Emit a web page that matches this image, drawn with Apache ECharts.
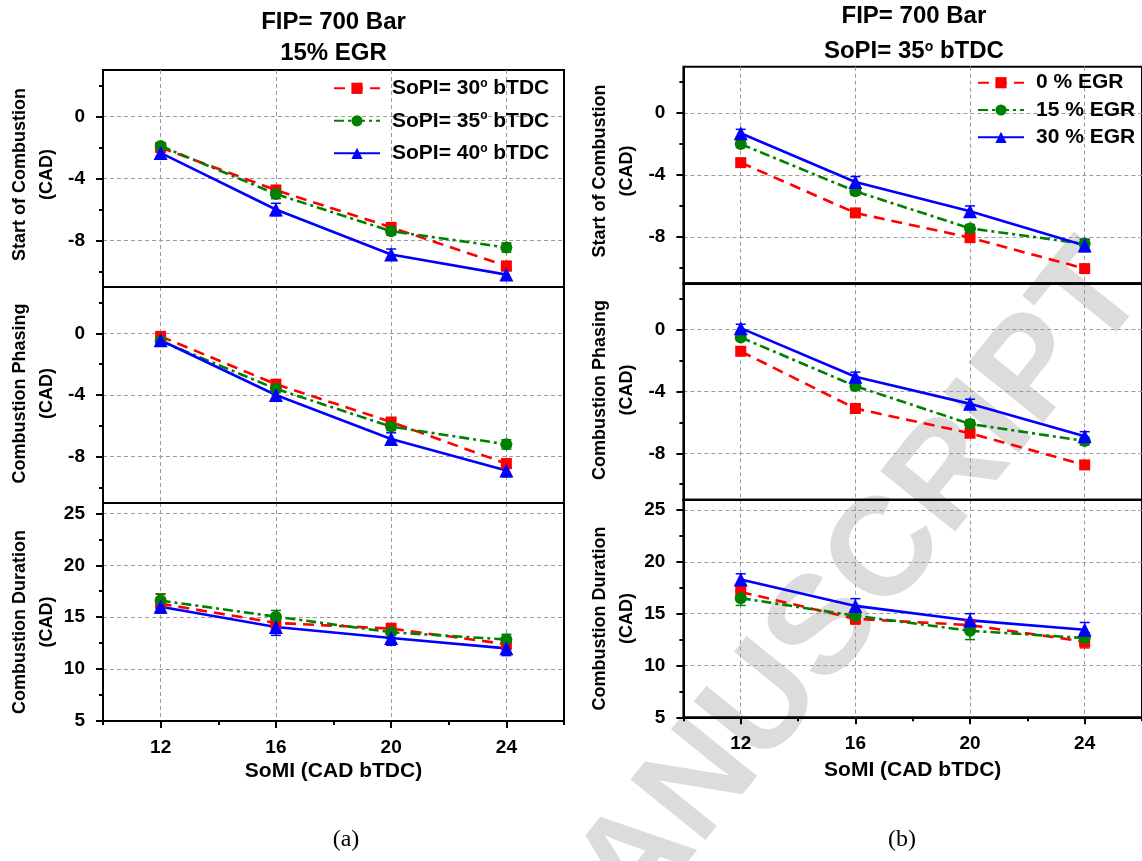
<!DOCTYPE html>
<html><head><meta charset="utf-8">
<script src="https://cdn.jsdelivr.net/npm/echarts@6/dist/echarts.min.js"></script>
<style>html,body{margin:0;padding:0;background:#fff}#c{width:1142px;height:861px}</style>
</head><body><div id="c"></div>
<script>
// ---------- data ----------
const somi = [12, 16, 20, 24];
const xMajorTicks = [12, 16, 20, 24];
const xMinorTicks = [10, 14, 18, 22, 26];
const cadMajorTicks = [0, -4, -8];
const cadMinorTicks = [2, -2, -6, -10];
const durMajorTicks = [5, 10, 15, 20, 25];
const durMinorTicks = [7.5, 12.5, 17.5, 22.5];

const namesA = ['SoPI= 30° bTDC', 'SoPI= 35° bTDC', 'SoPI= 40° bTDC'];
const namesB = ['0 % EGR', '15 % EGR', '30 % EGR'];

// panel (a): FIP 700 bar, 15% EGR
const aSoc30 = [-2.0, -4.75, -7.15, -9.65];
const aSoc35 = [-1.9, -5.0, -7.4, -8.45];
const aSoc40 = [-2.35, -6.0, -8.9, -10.2];
const aPh30 = [-0.2, -3.3, -5.75, -8.45];
const aPh35 = [-0.5, -3.6, -6.05, -7.2];
const aPh40 = [-0.45, -4.0, -6.85, -8.9];
const aDur30 = [16.3, 14.45, 13.9, 12.4];
const aDur35 = [16.6, 15.05, 13.55, 12.85];
const aDur40 = [16.0, 14.05, 13.0, 12.0];
const aSocErr30 = [0.2, 0.3, 0.25, 0.3];
const aSocErr35 = [0.2, 0.3, 0.25, 0.3];
const aSocErr40 = [0.25, 0.4, 0.35, 0.3];
const aPhErr30 = [0.2, 0.25, 0.25, 0.3];
const aPhErr35 = [0.2, 0.25, 0.25, 0.3];
const aPhErr40 = [0.25, 0.35, 0.4, 0.4];
const aDurErr30 = [0.9, 0.6, 0.5, 0.5];
const aDurErr35 = [0.65, 0.6, 0.6, 0.5];
const aDurErr40 = [0.6, 0.8, 0.7, 0.7];

// panel (b): FIP 700 bar, SoPI 35 deg bTDC
const bSoc0 = [-3.2, -6.45, -8.05, -10.05];
const bSoc15 = [-2.0, -5.05, -7.45, -8.45];
const bSoc30 = [-1.3, -4.45, -6.35, -8.55];
const bPh0 = [-1.4, -5.1, -6.7, -8.75];
const bPh15 = [-0.5, -3.65, -6.1, -7.2];
const bPh30 = [0.1, -3.05, -4.8, -6.9];
const bDur0 = [17.1, 14.5, 13.9, 12.3];
const bDur15 = [16.5, 14.8, 13.35, 12.65];
const bDur30 = [18.3, 15.75, 14.35, 13.45];
const bSocErr0 = [0.2, 0.25, 0.2, 0.25];
const bSocErr15 = [0.2, 0.25, 0.25, 0.25];
const bSocErr30 = [0.25, 0.35, 0.35, 0.4];
const bPhErr0 = [0.2, 0.25, 0.2, 0.25];
const bPhErr15 = [0.2, 0.25, 0.25, 0.25];
const bPhErr30 = [0.25, 0.3, 0.3, 0.3];
const bDurErr0 = [0.5, 0.5, 0.5, 0.6];
const bDurErr15 = [0.7, 0.6, 0.85, 0.5];
const bDurErr30 = [0.55, 0.7, 0.65, 0.7];

// ---------- build ----------
const FONT = '"Liberation Sans", Arial, Helvetica, sans-serif';
const SERIF = '"Liberation Serif", "Times New Roman", serif';
const BLACK = '#000';
const seriesStyles = [
  { color: '#ff0000', type: [11, 7], symbol: 'rect', size: 11 },
  { color: '#008000', type: [10, 4, 3, 4], symbol: 'circle', size: 12 },
  { color: '#0000ff', type: 'solid', symbol: 'triangle', size: 14 }
];

const panels = [
  { left: 103, tops: [70, 287, 503], heights: [217, 216, 218], names: namesA,
    vals: [[aSoc30, aSoc35, aSoc40], [aPh30, aPh35, aPh40], [aDur30, aDur35, aDur40]],
    errs: [[aSocErr30, aSocErr35, aSocErr40], [aPhErr30, aPhErr35, aPhErr40], [aDurErr30, aDurErr35, aDurErr40]],
    xNameGap: 40 },
  { left: 683.4, tops: [66.7, 283.3, 499.7], heights: [216.6, 216.4, 217.6], names: namesB,
    vals: [[bSoc0, bSoc15, bSoc30], [bPh0, bPh15, bPh30], [bDur0, bDur15, bDur30]],
    errs: [[bSocErr0, bSocErr15, bSocErr30], [bPhErr0, bPhErr15, bPhErr30], [bDurErr0, bDurErr15, bDurErr30]],
    xNameGap: 42 }
];
const metrics = [
  { name: 'Start of Combustion\n(CAD)', min: -11, max: 3, major: cadMajorTicks, minor: cadMinorTicks, pad: [0, 0, 0, 8] },
  { name: 'Combustion Phasing\n(CAD)', min: -11, max: 3, major: cadMajorTicks, minor: cadMinorTicks, pad: [0, 0, 0, 3] },
  { name: 'Combustion Duration\n(CAD)', min: 5, max: 26, major: durMajorTicks, minor: durMinorTicks, pad: [0, 20, 0, 0] }
];

const grid = [], xMain = [], yMain = [], xMinor = [], yMinor = [], series = [];
const labelStyle = { fontFamily: FONT, fontSize: 19, fontWeight: 'bold', color: BLACK };
const tickLine = { color: BLACK, width: 2 };
const splitStyle = { color: '#9a9a9a', width: 1, type: [4, 3] };

panels.forEach((p, pi) => {
  metrics.forEach((m, mi) => {
    const gi = pi * 3 + mi;
    const bottom = mi === 2;
    grid.push({ left: p.left, top: p.tops[mi], width: 461, height: p.heights[mi],
      show: true, borderColor: BLACK, borderWidth: 2, backgroundColor: 'transparent' });
    xMain.push({
      type: 'value', gridIndex: gi, position: 'bottom', min: 10, max: 26,
      axisLine: { show: true, onZero: false, lineStyle: tickLine },
      axisTick: { show: bottom, customValues: xMajorTicks, length: 7, lineStyle: tickLine },
      axisLabel: { show: bottom, customValues: xMajorTicks, margin: 17, ...labelStyle },
      splitLine: { show: true, lineStyle: splitStyle },
      name: bottom ? 'SoMI (CAD bTDC)' : '', nameLocation: 'middle', nameGap: p.xNameGap,
      nameTextStyle: { fontFamily: FONT, fontSize: 21, fontWeight: 'bold', color: BLACK }
    });
    if (bottom) {
      xMinor.push({
        type: 'value', gridIndex: gi, position: 'bottom', min: 10, max: 26,
        axisLine: { show: false, onZero: false },
        axisTick: { show: true, customValues: xMinorTicks, length: 4, lineStyle: tickLine },
        axisLabel: { show: false }, splitLine: { show: false }
      });
    }
    yMain.push({
      type: 'value', gridIndex: gi, position: 'left', min: m.min, max: m.max,
      axisLine: { show: true, onZero: false, lineStyle: tickLine },
      axisTick: { show: true, customValues: m.major, length: 7, lineStyle: tickLine },
      axisLabel: { show: true, customValues: m.major, margin: 18, ...labelStyle },
      splitLine: { show: true, lineStyle: splitStyle },
      name: m.name, nameLocation: 'middle', nameGap: 43,
      nameTextStyle: { fontFamily: FONT, fontSize: 18, fontWeight: 'bold', color: BLACK, lineHeight: 26.6, padding: m.pad }
    });
    yMinor.push({
      type: 'value', gridIndex: gi, position: 'left', min: m.min, max: m.max,
      axisLine: { show: false, onZero: false },
      axisTick: { show: true, customValues: m.minor, length: 4, lineStyle: tickLine },
      axisLabel: { show: false }, splitLine: { show: false }
    });
    p.names.forEach((nm, si) => {
      const st = seriesStyles[si];
      const vals = p.vals[mi][si];
      const errs = p.errs[mi][si];
      series.push({
        type: 'custom', name: 'err-' + gi + '-' + si, xAxisIndex: gi, yAxisIndex: gi,
        data: somi.map((x, i) => [x, vals[i], errs[i]]),
        encode: { x: 0, y: 1 }, silent: true, z: 2, animation: false,
        renderItem: (params, api) => {
          const x = api.value(0), y = api.value(1), e = api.value(2);
          const t = api.coord([x, y + e]), b = api.coord([x, y - e]);
          const w = 5, s = { stroke: st.color, lineWidth: 1.5 };
          return { type: 'group', children: [
            { type: 'line', shape: { x1: t[0], y1: t[1], x2: b[0], y2: b[1] }, style: s },
            { type: 'line', shape: { x1: t[0] - w, y1: t[1], x2: t[0] + w, y2: t[1] }, style: s },
            { type: 'line', shape: { x1: b[0] - w, y1: b[1], x2: b[0] + w, y2: b[1] }, style: s }
          ] };
        }
      });
      series.push({
        type: 'line', name: nm, xAxisIndex: gi, yAxisIndex: gi,
        data: somi.map((x, i) => [x, vals[i]]),
        symbol: st.symbol, symbolSize: st.size, showAllSymbol: true,
        lineStyle: { color: st.color, width: 2.6, type: st.type },
        itemStyle: { color: st.color }, z: 2, animation: false
      });
    });
  });
});

// watermark geometry
const mctx = document.createElement('canvas').getContext('2d');
mctx.font = 'bold 140px "Liberation Sans"';
const wmOffset = mctx.measureText('ACCEPTED MAN').width + mctx.measureText('U').width / 2;

const legendText = {
  fontFamily: FONT, fontSize: 21, fontWeight: 'bold', color: BLACK, lineHeight: 22, padding: [0, 0, 0, 7],
  rich: { sup: { fontFamily: FONT, fontSize: 12, fontWeight: 'bold', color: BLACK, lineHeight: 12, verticalAlign: 'top' } }
};
const titleText = { fontFamily: FONT, fontSize: 24, fontWeight: 'bold', color: BLACK };

const option = {
  backgroundColor: '#fff',
  animation: false,
  graphic: [{
    type: 'text', x: 765, y: 705, rotation: 51 * Math.PI / 180, z: -100, silent: true,
    style: { text: 'ACCEPTED MANUSCRIPT', x: -wmOffset, y: 0, fontSize: 140, fontWeight: 'bold', fontFamily: 'Liberation Sans',
      fill: '#dcdcdc', align: 'left', verticalAlign: 'middle' }
  }],
  title: [
    { text: 'FIP= 700 Bar', left: 333.5, top: 10.7, textAlign: 'center', padding: 0, textStyle: titleText },
    { text: '15% EGR', left: 333.5, top: 41.3, textAlign: 'center', padding: 0, textStyle: titleText },
    { text: 'FIP= 700 Bar', left: 913.9, top: 4, textAlign: 'center', padding: 0, textStyle: titleText },
    { text: 'SoPI= 35{sup|o} bTDC', left: 913.9, top: 39.7, textAlign: 'center', padding: 0,
      textStyle: { ...titleText, lineHeight: 24,
        rich: { sup: { fontFamily: FONT, fontSize: 14, fontWeight: 'bold', color: BLACK, lineHeight: 14, verticalAlign: 'top' } } } },
    { text: '(a)', left: 346, top: 828, textAlign: 'center', padding: 0,
      textStyle: { fontFamily: SERIF, fontSize: 24, fontWeight: 'normal', color: BLACK } },
    { text: '(b)', left: 902, top: 828, textAlign: 'center', padding: 0,
      textStyle: { fontFamily: SERIF, fontSize: 24, fontWeight: 'normal', color: BLACK } }
  ],
  legend: [
    { data: namesA, orient: 'vertical', left: 333, top: 77.3, padding: 0, itemWidth: 46, itemHeight: 14, itemGap: 10.5,
      selectedMode: false, textStyle: legendText, formatter: n => n.replace('°', '{sup|o}') },
    { data: namesB, orient: 'vertical', left: 977, top: 71.7, padding: 0, itemWidth: 46, itemHeight: 14, itemGap: 5.3,
      selectedMode: false, textStyle: legendText }
  ],
  grid: grid,
  xAxis: xMain.concat(xMinor),
  yAxis: yMain.concat(yMinor),
  series: series
};
const chart = echarts.init(document.getElementById('c'), null, { renderer: 'canvas' });
chart.setOption(option);
</script>
</body></html>
